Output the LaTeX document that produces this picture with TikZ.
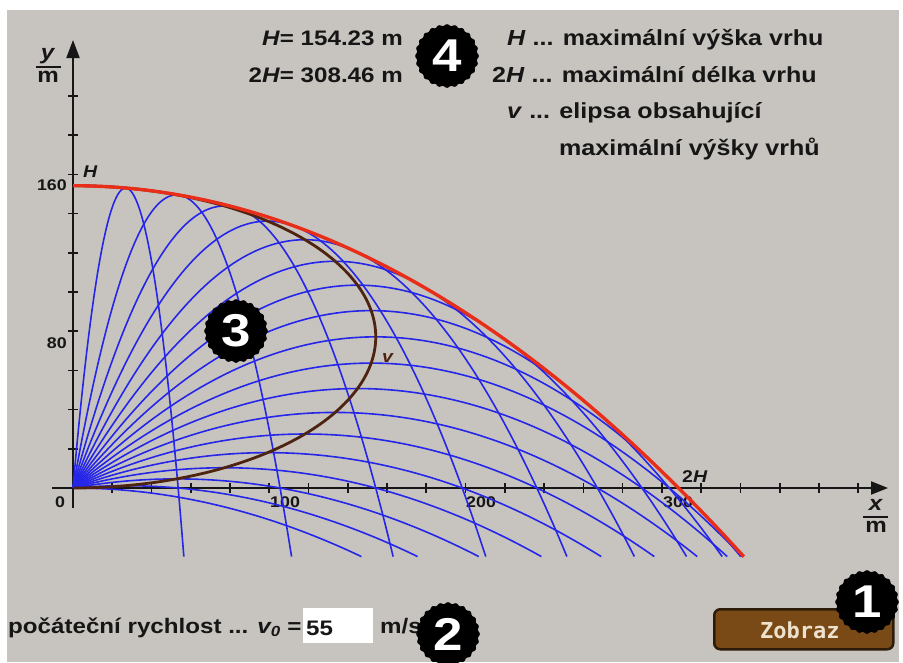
\documentclass[tikz,border=0pt]{standalone}
\usepackage{fontspec}
\setmainfont{Liberation Sans}[FakeStretch=1.15]
\newfontfamily\btnfont{DejaVu Sans Mono}
\usetikzlibrary{arrows.meta}
\definecolor{bggray}{RGB}{199,196,191}
\definecolor{trajblue}{RGB}{38,38,232}
\definecolor{envred}{RGB}{232,45,25}
\definecolor{ellbrown}{RGB}{78,36,16}
\definecolor{txt}{RGB}{22,22,22}
\definecolor{btnfill}{RGB}{122,74,22}
\definecolor{btnline}{RGB}{45,28,10}
\definecolor{btntext}{RGB}{238,226,206}
\newcommand\mybadge[4]{%
  \fill[black] plot[domain=0:360,samples=241,variable=\q]
    ({#2+(31+0.8*cos(24*\q))*cos(\q)},{#3+(31+0.8*cos(24*\q))*sin(\q)}) -- cycle;
  \node[badgenum] (#1) at (#2,#3) {#4};
}
\begin{document}
\begin{tikzpicture}[x=1pt,y=-1pt,
  lbl/.style={inner sep=0pt,text=txt,font=\bfseries\fontsize{21}{24}\selectfont},
  leglbl/.style={inner sep=0pt,text=txt,font=\bfseries\fontsize{21.8}{24}\selectfont},
  ticklbl/.style={inner sep=0pt,text=txt,font=\bfseries\fontsize{15.5}{17}\selectfont},
  smalllbl/.style={inner sep=0pt,text=txt,font=\bfseries\fontsize{17}{19}\selectfont},
  badgenum/.style={inner sep=0pt,text=white,font=\bfseries\fontsize{46}{46}\selectfont},
  axisline/.style={line width=2pt,draw=txt},
  tickline/.style={line width=1.7pt,draw=txt},
  fracbar/.style={line width=1.8pt,draw=txt},
  traj/.style={draw=trajblue,line width=1.6pt},
  ellline/.style={draw=ellbrown,line width=2.8pt},
  envline/.style={draw=envred,line width=3.4pt}]
\useasboundingbox (0,0) rectangle (903,662);
\fill[white] (0,0) rectangle (903,662);
\fill[bggray] (7,10) rectangle (899,662);

% axes
\coordinate (xs) at (52,488);
\coordinate (xe) at (888,488);
\coordinate (ys) at (73,508);
\coordinate (ye) at (73,40);
\draw[axisline,-{Triangle[length=17pt,width=13pt]}] (xs) -- (xe);
\draw[axisline,-{Triangle[length=18pt,width=13pt]}] (ys) -- (ye);
\foreach \k in {1,...,20} \draw[tickline] ({73+1.963*20*\k},483) -- ++(0,10);
\foreach \k in {1,...,10} \draw[tickline] (68,{488-1.96*20*\k}) -- ++(10,0);

% axis labels
\node[lbl,anchor=base] (ynum) at (48,59) {\textit{y}};
\draw[fracbar] (36,67) -- (61,67);
\node[lbl,anchor=base] (yden) at (48,82) {m};
\node[lbl,anchor=base] (xnum) at (876,510) {\textit{x}};
\draw[fracbar] (863,517) -- (888,517);
\node[lbl,anchor=base] (xden) at (876,532) {m};

% tick labels
\node[ticklbl,anchor=north west] (t0) at (55,496) {0};
\node[ticklbl,anchor=north west] (t100) at (270,496) {100};
\node[ticklbl,anchor=north west] (t200) at (466,496) {200};
\node[ticklbl,anchor=north west] (t300) at (663,496) {300};
\node[ticklbl,anchor=north east] (t160) at (67,179) {160};
\node[ticklbl,anchor=north east] (t80) at (67,337) {80};
\node[smalllbl,anchor=base west] (hlab) at (83,177) {\textit{H}};
\node[smalllbl,anchor=base west] (dhlab) at (682,482) {2\textit{H}};

% curves
\begin{scope}[shift={(73,488)},x=1.963pt,y=1.96pt]
  \foreach \a in {0,5,...,85}{
    \pgfmathsetmacro\vx{55*cos(\a)}
    \pgfmathsetmacro\vy{55*sin(\a)}
    \pgfmathsetmacro\tend{(\vy+sqrt(\vy*\vy+686.49))/9.807}
    \draw[traj] plot[domain=0:\tend,samples=70,variable=\q,smooth] ({\vx*\q},{\vy*\q-4.9035*\q*\q});
  }
  \draw[ellline] plot[domain=0:90,samples=91,variable=\w,smooth] ({154.23*sin(2*\w)},{154.23*sin(\w)*sin(\w)});
  \draw[envline] plot[domain=0:341.7,samples=90,smooth] (\x,{154.23-(\x/24.8379)*(\x/24.8379)});
\end{scope}
\node[smalllbl,text=ellbrown,anchor=base west] (vlabel) at (382,362) {\textit{v}};

% texts top
\node[lbl,anchor=base east] (hval) at (403,45) {\textit{H}= 154.23 m};
\node[lbl,anchor=base east] (lval) at (403,82) {2\textit{H}= 308.46 m};
\node[leglbl,anchor=base west] (leg1) at (507,45) {\textit{H} ... maximální výška vrhu};
\node[leglbl,anchor=base west] (leg2) at (492,82) {2\textit{H} ... maximální délka vrhu};
\node[leglbl,anchor=base west] (leg3) at (507,118) {\textit{v} ... elipsa obsahující};
\node[leglbl,anchor=base west] (leg4) at (559,155) {maximální výšky vrhů};

% bottom
\node[lbl,anchor=base west] (vlab) at (8,633) {počáteční rychlost ... \textit{v\textsubscript{0}} =};
\node[fill=white,inner sep=0pt,minimum width=70pt,minimum height=35pt,anchor=north west] (vbox) at (303,608) {};
\node[lbl,anchor=base west] (vval) at (306,635) {55};
\node[lbl,anchor=base west] (unit) at (380,633) {m/s};
\node[draw=btnline,line width=2.5pt,fill=btnfill,rounded corners=6pt,minimum width=179pt,minimum height=40pt,inner sep=0pt,anchor=north west] (btn) at (713,608) {};
\node[inner sep=0pt,anchor=base west,text=btntext,font=\btnfont\bfseries\fontsize{22}{22}\selectfont] (btntxt) at (760,638) {Zobraz};

% badges
\mybadge{b4}{447}{56}{4}
\mybadge{b3}{236}{331}{3}
\mybadge{b2}{448}{634}{2}
\mybadge{b1}{867}{602}{1}
\end{tikzpicture}
\end{document}
